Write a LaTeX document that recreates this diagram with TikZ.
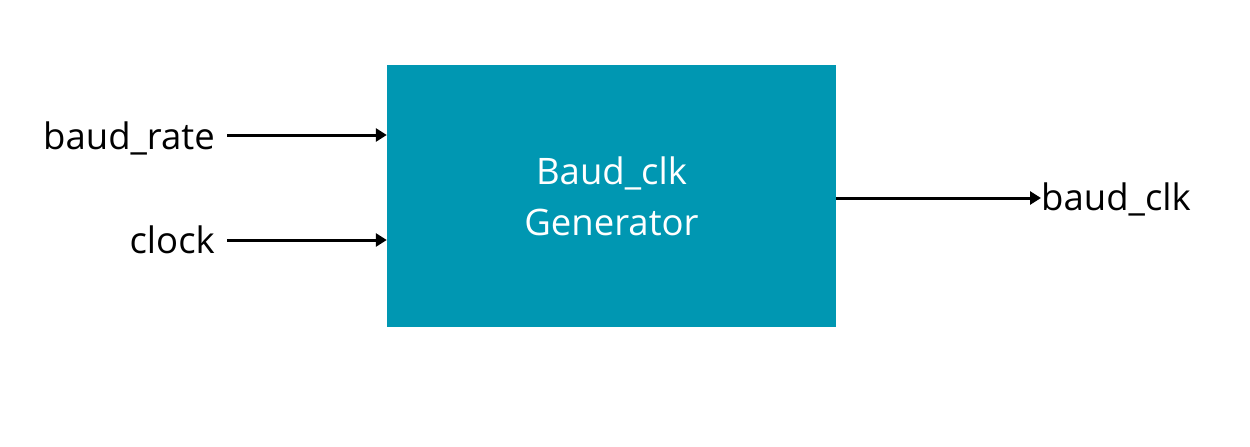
\documentclass[tikz,border=0pt]{standalone}
\usepackage{fontspec}
\setmainfont{Open Sans}
\usepackage{tikz}
\usetikzlibrary{arrows.meta,positioning,calc}
\definecolor{BoxTeal}{HTML}{0097B2}
\tikzset{
 genbox/.style={fill=BoxTeal,draw=none,minimum width=449pt,minimum height=262pt,
   align=center,text=white,font=\fontsize{36.5}{51}\selectfont,inner sep=0pt},
 sig/.style={font=\fontsize{36.5}{40}\selectfont,inner sep=0pt,text=black},
 arr/.style={-{Triangle[length=11pt,width=13pt]},line width=3pt,draw=black}
}
\begin{document}
\begin{tikzpicture}[x=1pt,y=-1pt]
\useasboundingbox (0,0) rectangle (1250,447);
\node[genbox] (gen) at (611.5,196) {Baud\_clk\\Generator};
\node[sig,anchor=base east] (rate) at (215,149) {baud\_rate};
\node[sig,anchor=base east] (clk) at (215,253) {clock};
\node[sig,anchor=base west] (out) at (1041,210) {baud\_clk};
\draw[arr] ([xshift=12pt]rate.east |- 0,135) -- (gen.west |- 0,135);
\draw[arr] ([xshift=12pt]clk.east |- 0,240) -- (gen.west |- 0,240);
\draw[arr] (gen.east |- 0,198) -- (out.west |- 0,198);
\end{tikzpicture}
\end{document}
